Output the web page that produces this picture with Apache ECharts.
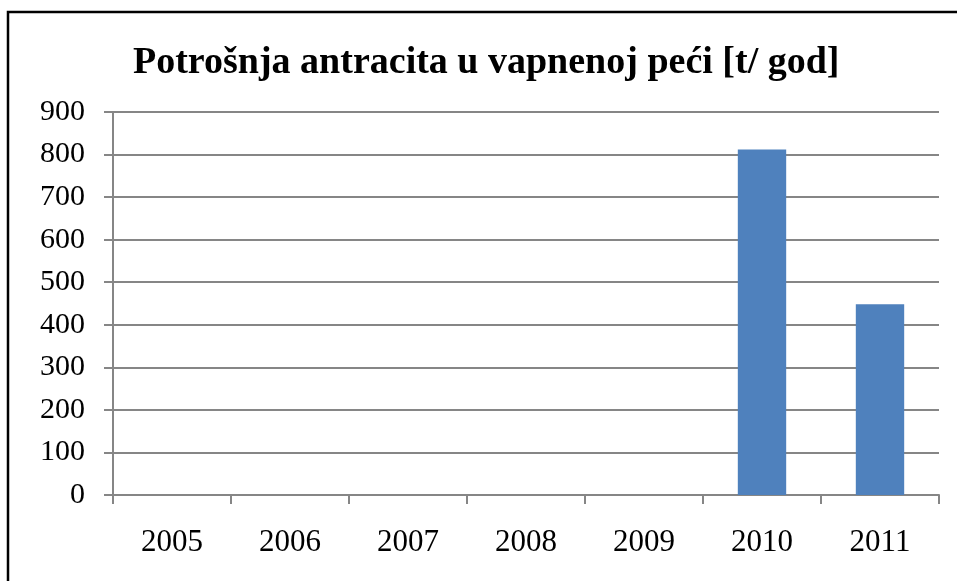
<!DOCTYPE html>
<html>
<head>
<meta charset="utf-8">
<script src="https://cdn.jsdelivr.net/npm/echarts@6/dist/echarts.min.js"></script>
<style>
html, body { margin: 0; padding: 0; background: #fff; }
#chart { width: 957px; height: 581px; }
</style>
</head>
<body>
<div id="chart"></div>
<script>
var years = ['2005', '2006', '2007', '2008', '2009', '2010', '2011'];
var values = [0, 0, 0, 0, 0, 812, 448];
var yTicks = [0, 100, 200, 300, 400, 500, 600, 700, 800, 900];

var gray = '#868686';
var font = '"Liberation Serif", "Times New Roman", serif';

var option = {
    animation : false,
    backgroundColor : '#fff',
    title : {
        text : 'Potrošnja antracita u vapnenoj peći [t/ god]',
        left : 128,
        top : 39,
        textStyle : {
            fontFamily : font,
            fontWeight : 'bold',
            fontSize : 38,
            color : '#000'
        }
    },
    grid : {
        left : 113,
        right : 18,
        top : 112,
        bottom : 86
    },
    xAxis : {
        type : 'category',
        data : years,
        axisLine : { lineStyle : { color : gray, width : 2 } },
        axisTick : { show : true, length : 9, lineStyle : { color : gray, width : 2 } },
        axisLabel : {
            margin : 32,
            fontFamily : font,
            fontSize : 31,
            color : '#000'
        }
    },
    yAxis : {
        type : 'value',
        min : yTicks[0],
        max : yTicks[yTicks.length - 1],
        interval : 100,
        axisLine : { show : true, lineStyle : { color : gray, width : 2 } },
        axisTick : { show : true, length : 9, lineStyle : { color : gray, width : 2 } },
        splitLine : { lineStyle : { color : gray, width : 2 } },
        axisLabel : {
            margin : 28,
            fontFamily : font,
            fontSize : 30,
            color : '#000'
        }
    },
    series : [ {
        type : 'bar',
        data : values,
        barWidth : '41%',
        itemStyle : { color : '#4F81BD' }
    } ],
    graphic : [ {
        type : 'rect',
        shape : { x : 8, y : 12, width : 1000, height : 700 },
        style : { fill : 'none', stroke : '#000', lineWidth : 2.5 },
        silent : true
    } ]
};

var chart = echarts.init(document.getElementById('chart'));
chart.setOption(option);
</script>
</body>
</html>
